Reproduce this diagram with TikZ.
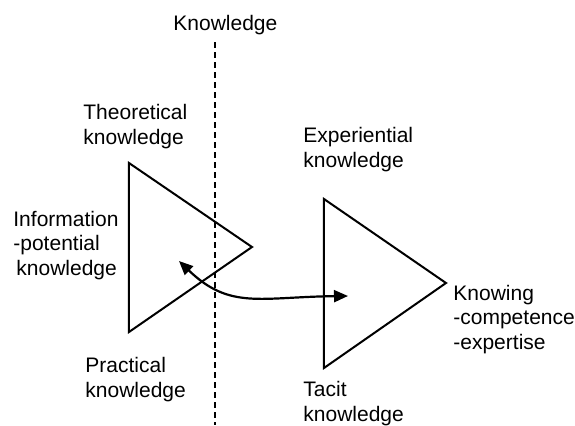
\documentclass[tikz,border=0pt]{standalone}
\usepackage{fontspec}
\setmainfont{Liberation Sans}
\usetikzlibrary{arrows.meta,positioning}

\begin{document}
\begin{tikzpicture}[x=0.5pt,y=-0.5pt,
    lbl/.style={inner sep=0pt,align=left,anchor=base west,font=\fontsize{10.5}{12.2}\selectfont},
    tri/.style={draw,line width=1pt,line join=miter},
    link/.style={line width=1.1pt,{Triangle[length=7pt,width=6pt]}-{Triangle[length=7pt,width=6pt]}}]
  \useasboundingbox (0,0) rectangle (575,425);
  % the divide
  \node[lbl] (know) at (173,30) {Knowledge};
  \coordinate (divtop) at (215,42);
  \coordinate (divbot) at (215,425);
  \draw[line width=1pt,dash pattern=on 3pt off 2pt] (divtop) -- (divbot);
  % left triangle
  \coordinate (la) at (129,163);
  \coordinate (lb) at (252,247);
  \coordinate (lc) at (129,332);
  \draw[tri] (la) -- (lb) -- (lc) -- cycle;
  \node[lbl] (theo) at (83,144) {Theoretical\\knowledge};
  \node[lbl] (info) at (13,275) {Information\\-potential\\\hspace{1.5pt}knowledge};
  \node[lbl] (prac) at (85,397) {Practical\\knowledge};
  % right triangle
  \coordinate (ra) at (324,199);
  \coordinate (rb) at (446,283);
  \coordinate (rc) at (324,368);
  \draw[tri] (ra) -- (rb) -- (rc) -- cycle;
  \node[lbl] (exper) at (303,167) {Experiential\\knowledge};
  \node[lbl] (knowing) at (453,349) {Knowing\\-competence\\-expertise};
  \node[lbl] (tacit) at (303,421) {Tacit\\knowledge};
  % exchange
  \coordinate (infopt) at (179,261);
  \coordinate (tacitpt) at (348,296);
  \draw[link] (infopt) .. controls (230,310) and (260,297) .. (tacitpt);
\end{tikzpicture}
\end{document}
